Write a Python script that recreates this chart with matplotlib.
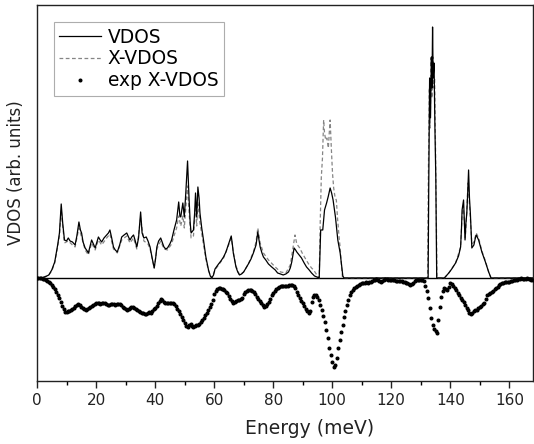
import numpy as np
import matplotlib.pyplot as plt

# calculated VDOS (solid line): energy [meV], intensity
vdos_e = [0, 1, 2, 3, 4, 5, 6, 7, 7.6, 8.2, 8.7, 9.3, 10, 10.6, 11.2, 12, 12.9, 13.5, 14.2, 14.7,
          15.1, 15.6, 16.3, 17, 17.4, 18, 18.5, 19.1, 19.7, 20.3, 20.8, 21.4, 21.9, 22.7, 23.6,
          24.2, 24.7, 25.3, 25.9, 26.5, 27.2, 28, 28.7, 29.5, 30.4, 31, 31.5, 32.1, 32.7, 33.2,
          33.8, 34.4, 35.1, 35.6, 36.2, 37, 37.6, 38.3, 39, 39.7, 40.2, 40.6, 41.2, 41.9, 42.5,
          43, 43.6, 44.2, 45, 45.6, 46.4, 47.3, 48, 48.4, 48.7, 49.4, 49.9, 50.4, 51, 51.5, 51.9,
          52.2, 53, 53.4, 53.7, 54.1, 54.5, 54.9, 55.2, 55.8, 56.4, 57.2, 58.1, 58.7, 59.2, 59.8,
          60.3, 61, 61.5, 62.3, 63.2, 64, 64.8, 65.4, 65.8, 66.2, 66.5, 67, 67.4, 68, 68.6, 69.3,
          70, 70.8, 71.6, 72.5, 73.3, 74.2, 74.8, 75.2, 75.6, 76.2, 76.7, 77.5, 78.4, 79.5, 80.7,
          81.5, 82.5, 83.4, 84.3, 85.2, 85.8, 86.3, 86.7, 87.1, 87.6, 88, 88.8, 89.6, 90.5, 91.3,
          92.2, 93, 94, 94.8, 95.6, 95.9, 96.1, 96.8, 97.4, 98.1, 98.7, 99.3, 99.8, 100.3, 101.1,
          101.9, 102.7, 103.2, 103.6, 104, 132.5, 132.7, 133.0, 133.3, 133.6, 133.8, 134.0, 134.2,
          134.5, 134.8, 135.1, 135.4, 138, 139.5, 140.5, 141.8, 142.8, 143.5, 143.8, 144.0, 144.5,
          145.0, 145.3, 145.6, 145.9, 146.2, 146.5, 146.8, 147.3, 148, 148.5, 148.8, 149.6, 150.7,
          151.9, 153, 153.8, 168]
vdos_i = [0, 0, 0.005, 0.015, 0.03, 0.08, 0.16, 0.33, 0.45, 0.74, 0.55, 0.38, 0.37, 0.40, 0.37,
          0.36, 0.33, 0.42, 0.56, 0.48, 0.45, 0.36, 0.30, 0.27, 0.25, 0.32, 0.38, 0.34, 0.30, 0.36,
          0.41, 0.38, 0.36, 0.40, 0.43, 0.45, 0.48, 0.40, 0.31, 0.28, 0.26, 0.33, 0.41, 0.43, 0.45,
          0.41, 0.38, 0.41, 0.43, 0.38, 0.31, 0.40, 0.66, 0.45, 0.40, 0.41, 0.37, 0.31, 0.20, 0.10,
          0.20, 0.31, 0.37, 0.40, 0.35, 0.31, 0.29, 0.30, 0.34, 0.38, 0.48, 0.58, 0.76, 0.62, 0.61,
          0.75, 0.61, 0.85, 1.17, 0.80, 0.55, 0.45, 0.48, 0.65, 0.85, 0.61, 0.91, 0.80, 0.65, 0.50,
          0.38, 0.21, 0.08, 0.02, 0.0, 0.03, 0.09, 0.12, 0.14, 0.17, 0.21, 0.26, 0.33, 0.38, 0.42,
          0.33, 0.25, 0.17, 0.11, 0.06, 0.03, 0.04, 0.06, 0.10, 0.14, 0.19, 0.25, 0.33, 0.46, 0.38,
          0.31, 0.25, 0.21, 0.18, 0.14, 0.11, 0.08, 0.05, 0.04, 0.03, 0.04, 0.06, 0.10, 0.16, 0.23,
          0.30, 0.28, 0.26, 0.23, 0.20, 0.15, 0.11, 0.08, 0.05, 0.02, 0.01, 0.0, 0.30, 0.48, 0.48,
          0.68, 0.75, 0.82, 0.90, 0.85, 0.78, 0.61, 0.38, 0.25, 0.12, 0.02, 0.0, 0.0, 0.9, 2.0,
          1.6, 2.21, 1.9, 2.51, 2.0, 2.15, 1.5, 1.0, 0.0, 0.0, 0.05, 0.09, 0.15, 0.22, 0.31, 0.50,
          0.68, 0.78, 0.38, 0.55, 0.65, 0.85, 1.08, 0.80, 0.65, 0.30, 0.33, 0.40, 0.43, 0.38, 0.26,
          0.16, 0.06, 0.0, 0.0]

# calculated X-ray weighted VDOS (dashed line)
xvdos_e = [0, 2, 4, 5, 6, 7, 7.6, 8.2, 8.7, 9.3, 10.6, 12, 12.9, 14.2, 15.1, 16.3, 17.4, 18.5,
           19.7, 20.8, 21.9, 23.6, 24.7, 25.9, 27.2, 28.7, 30.4, 31.5, 32.7, 33.8, 35.1, 36.2,
           37.6, 38.3, 39.7, 40.6, 41.9, 43, 44.2, 45.6, 46.4, 47.3, 48, 48.7, 49.4, 49.9, 50.4,
           51, 51.5, 52.2, 53, 53.7, 54.1, 54.5, 55.2, 56.4, 57.2, 58.1, 59.2, 60.3, 61.5, 63.2,
           64.8, 65.8, 66.5, 67.4, 68.6, 70, 71.6, 73.3, 74.2, 74.8, 75.6, 76.7, 78.4, 80.7, 82.5,
           84.3, 85.8, 86.7, 87.4, 88, 89, 90, 91, 92, 93, 93.7, 94.8, 95.6, 95.9, 96.3, 96.7,
           97.1, 97.4, 97.8, 98.2, 98.7, 99.0, 99.3, 99.7, 100.1, 100.5, 101, 101.4, 101.8, 102.3,
           102.7, 103.2, 103.5, 132.3, 132.6, 132.9, 133.2, 133.5, 133.8, 134.1, 134.4, 134.7,
           135.0, 135.5, 138, 139.5, 141.8, 143.5, 144.0, 144.4, 144.7, 145.1, 145.5, 146.0,
           146.4, 146.8, 147.3, 148, 148.8, 149.6, 150.7, 151.9, 153, 153.8, 168]
xvdos_i = [0, 0.005, 0.03, 0.07, 0.15, 0.31, 0.42, 0.68, 0.52, 0.35, 0.37, 0.33, 0.31, 0.50,
           0.41, 0.28, 0.23, 0.35, 0.28, 0.38, 0.33, 0.40, 0.44, 0.29, 0.25, 0.38, 0.42, 0.35,
           0.40, 0.29, 0.60, 0.37, 0.34, 0.29, 0.10, 0.29, 0.37, 0.29, 0.28, 0.34, 0.42, 0.50,
           0.62, 0.52, 0.62, 0.50, 0.70, 0.92, 0.66, 0.40, 0.42, 0.72, 0.52, 0.76, 0.55, 0.33,
           0.19, 0.07, 0.0, 0.08, 0.13, 0.20, 0.32, 0.40, 0.26, 0.12, 0.03, 0.06, 0.14, 0.26,
           0.36, 0.50, 0.35, 0.25, 0.18, 0.11, 0.06, 0.05, 0.13, 0.30, 0.43, 0.34, 0.30, 0.24,
           0.19, 0.14, 0.10, 0.08, 0.03, 0.0, 0.5, 1.0, 1.2, 1.58, 1.45, 1.38, 1.40, 1.30, 1.45,
           1.58, 1.30, 1.05, 0.90, 0.80, 0.78, 0.60, 0.42, 0.30, 0.10, 0.0, 0.0, 1.1, 1.9, 1.5,
           2.2, 1.8, 2.21, 1.9, 2.0, 1.3, 0.0, 0.0, 0.05, 0.15, 0.31, 0.62, 0.72, 0.60, 0.40,
           0.62, 0.95, 0.78, 0.60, 0.34, 0.36, 0.45, 0.40, 0.27, 0.17, 0.06, 0.0, 0.0]

# measured X-VDOS, 0.5 meV steps from 0 to 168 meV (drawn mirrored below zero)
exp_step = 0.5
exp_i = [0, 0, 0, 0.005, 0.01, 0.015, 0.02, 0.03, 0.04, 0.055,
         0.07, 0.09, 0.11, 0.14, 0.17, 0.20, 0.24, 0.28, 0.31, 0.34,
         0.34, 0.33, 0.33, 0.32, 0.31, 0.30, 0.28, 0.27, 0.26, 0.27,
         0.29, 0.30, 0.31, 0.32, 0.31, 0.30, 0.29, 0.28, 0.27, 0.26,
         0.25, 0.25, 0.25, 0.26, 0.25, 0.25, 0.25, 0.26, 0.27, 0.27,
         0.26, 0.26, 0.26, 0.27, 0.26, 0.26, 0.26, 0.27, 0.29, 0.30,
         0.31, 0.32, 0.31, 0.30, 0.29, 0.29, 0.30, 0.31, 0.32, 0.33,
         0.34, 0.35, 0.35, 0.36, 0.36, 0.35, 0.34, 0.35, 0.33, 0.31,
         0.30, 0.28, 0.25, 0.23, 0.21, 0.22, 0.24, 0.25, 0.25, 0.25,
         0.25, 0.25, 0.25, 0.26, 0.28, 0.31, 0.33, 0.36, 0.39, 0.42,
         0.45, 0.48, 0.49, 0.47, 0.46, 0.48, 0.49, 0.48, 0.47, 0.47,
         0.46, 0.44, 0.42, 0.40, 0.37, 0.35, 0.32, 0.29, 0.26, 0.22,
         0.16, 0.13, 0.11, 0.10, 0.10, 0.11, 0.11, 0.12, 0.14, 0.15,
         0.18, 0.21, 0.23, 0.25, 0.24, 0.23, 0.22, 0.22, 0.21, 0.20,
         0.16, 0.14, 0.13, 0.12, 0.12, 0.12, 0.13, 0.14, 0.16, 0.19,
         0.21, 0.23, 0.25, 0.27, 0.29, 0.28, 0.26, 0.24, 0.21, 0.17,
         0.15, 0.13, 0.11, 0.10, 0.09, 0.08, 0.08, 0.08, 0.08, 0.08,
         0.08, 0.07, 0.07, 0.07, 0.08, 0.10, 0.14, 0.17, 0.20, 0.23,
         0.25, 0.28, 0.31, 0.33, 0.35, 0.33, 0.24, 0.19, 0.17, 0.17,
         0.19, 0.22, 0.27, 0.32, 0.38, 0.44, 0.52, 0.60, 0.70, 0.77,
         0.84, 0.89, 0.87, 0.80, 0.70, 0.62, 0.54, 0.47, 0.39, 0.33,
         0.27, 0.22, 0.17, 0.14, 0.12, 0.10, 0.09, 0.08, 0.07, 0.06,
         0.05, 0.05, 0.05, 0.04, 0.05, 0.04, 0.04, 0.03, 0.02, 0.02,
         0.01, 0.02, 0.03, 0.04, 0.03, 0.02, 0.01, 0.01, 0.02, 0.02,
         0.02, 0.02, 0.02, 0.03, 0.03, 0.03, 0.03, 0.03, 0.04, 0.04,
         0.05, 0.05, 0.06, 0.07, 0.06, 0.05, 0.03, 0.02, 0.02, 0.02,
         0.02, 0.02, 0.03, 0.08, 0.13, 0.20, 0.30, 0.40, 0.47, 0.51,
         0.53, 0.55, 0.42, 0.29, 0.19, 0.13, 0.10, 0.11, 0.12, 0.09,
         0.05, 0.06, 0.08, 0.10, 0.12, 0.15, 0.17, 0.20, 0.22, 0.24,
         0.27, 0.30, 0.32, 0.35, 0.36, 0.35, 0.33, 0.32, 0.32, 0.30,
         0.29, 0.28, 0.26, 0.25, 0.21, 0.17, 0.16, 0.15, 0.14, 0.13,
         0.11, 0.10, 0.09, 0.07, 0.06, 0.05, 0.05, 0.04, 0.04, 0.04,
         0.04, 0.03, 0.03, 0.02, 0.02, 0.02, 0.01, 0.01, 0.00, 0.01,
         0.01, 0.01, 0.00, 0.01, 0.01, 0.02, 0.02]

exp_e = np.arange(len(exp_i)) * exp_step

fig = plt.figure(figsize=(5.34, 4.44), dpi=100)
ax = fig.add_axes([0.0693, 0.142, 0.9287, 0.8467])

ax.axhline(0, color='black', lw=1.0, zorder=1)
ax.plot(vdos_e, vdos_i, color='black', lw=0.9, label='VDOS', zorder=3)
ax.plot(xvdos_e, xvdos_i, color='#858585', lw=0.9, ls=(0, (3, 2)), label='X-VDOS', zorder=2)
ax.plot(exp_e, -np.array(exp_i), ls='none', marker='o', ms=1.9, color='black',
        label='exp X-VDOS', zorder=4)

ax.set_xlim(0, 168)
ax.set_ylim(-1.03, 2.73)
ax.set_yticks([])
ax.set_xticks(np.arange(0, 161, 20))
ax.set_xticks(np.arange(10, 168, 20), minor=True)
ax.tick_params(axis='x', which='major', direction='out', length=5, width=1, labelsize=11,
               colors='#222222')
ax.tick_params(axis='x', which='minor', direction='out', length=3, width=1)
for s in ax.spines.values():
    s.set_linewidth(1.0)
    s.set_color('#222222')

ax.set_xlabel('Energy (meV)', fontsize=13.5, color='#222222', labelpad=8)
ax.xaxis.set_label_coords(0.55, -0.1)
ax.xaxis.label.set_verticalalignment('top')
ax.set_ylabel('VDOS (arb. units)', fontsize=12, color='#222222')
ax.yaxis.set_label_coords(-0.025, 0.553)

leg = ax.legend(loc='upper left', bbox_to_anchor=(0.034, 0.955), borderaxespad=0,
                fontsize=13.4, fancybox=False, handlelength=2.25, handletextpad=0.35,
                labelspacing=0.15, borderpad=0.3, markerscale=1.0)
leg.get_frame().set_edgecolor('#999999')
leg.get_frame().set_linewidth(0.8)

fig.savefig('out.png', dpi=100)
